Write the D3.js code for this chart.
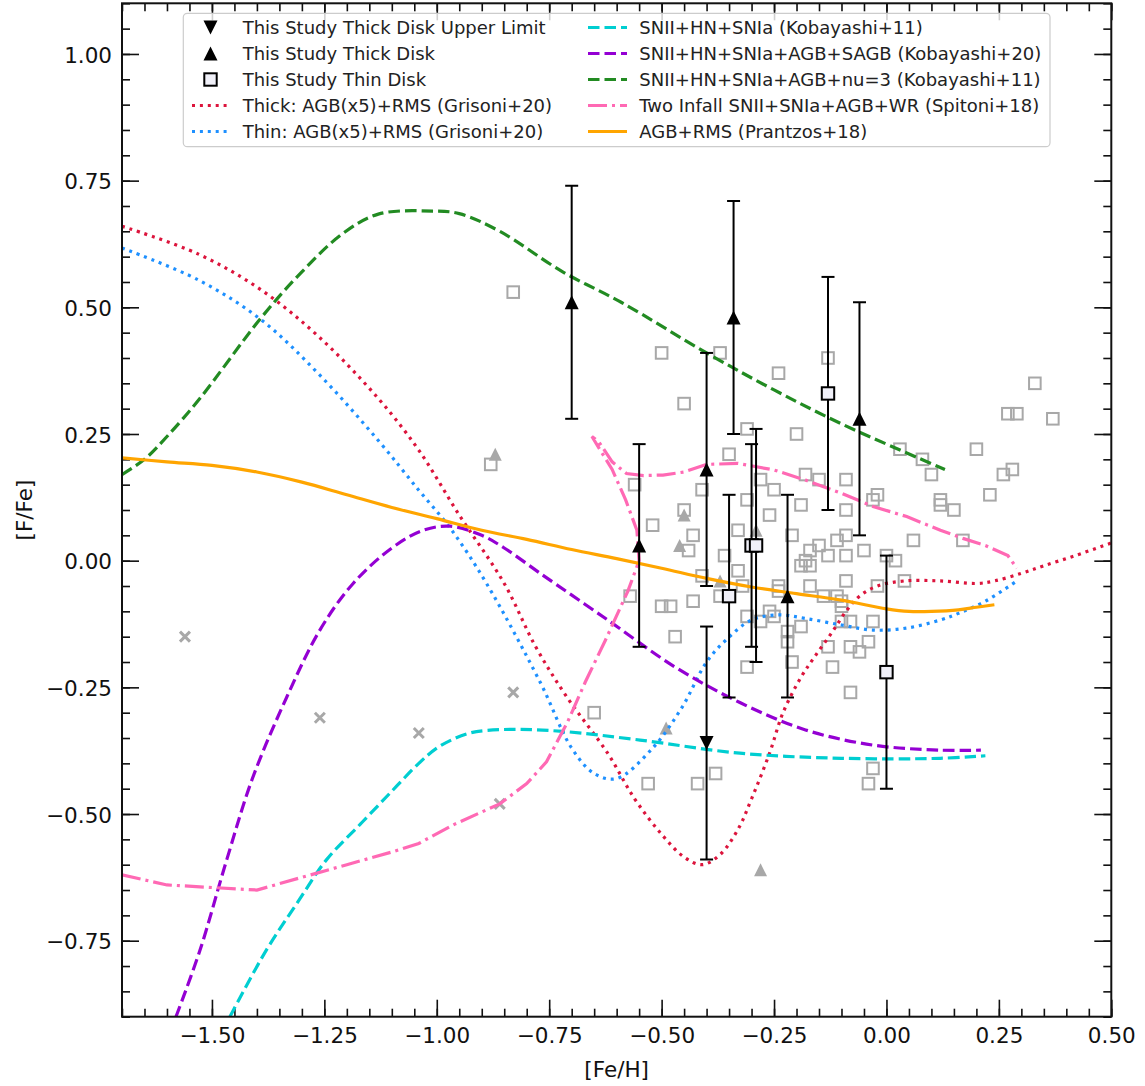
<!DOCTYPE html>
<html>
<head>
<meta charset="utf-8">
<script src="https://cdn.jsdelivr.net/npm/d3@7.9.0/dist/d3.min.js"></script>
<style>
  body { margin: 0; background: #fff; }
  svg { display: block; font-family: "DejaVu Sans", sans-serif; }
</style>
</head>
<body>
<svg id="chart" width="1145" height="1086"></svg>
<script>
// axis ranges and ticks
const xDomain = [-1.7, 0.5];
const yDomain = [-0.9, 1.1];
const xMajorTicks = [-1.5, -1.25, -1.0, -0.75, -0.5, -0.25, 0, 0.25, 0.5];
const yMajorTicks = [-0.75, -0.5, -0.25, 0, 0.25, 0.5, 0.75, 1.0];

// this study: thick disk (filled up triangles)
const thickX = [-0.70, -0.55, -0.40, -0.34, -0.22, -0.06];
const thickY = [0.51, 0.03, 0.18, 0.48, -0.07, 0.28];
const thickErr = [0.23, 0.20, 0.23, 0.23, 0.20, 0.23];

// this study: thick disk upper limit (down triangle)
const limitX = [-0.40];
const limitY = [-0.36];
const limitErr = [0.23];

// this study: thin disk (squares)
const thinX = [-0.35, -0.30, -0.29, -0.13, 0.00];
const thinY = [-0.07, 0.03, 0.03, 0.33, -0.22];
const thinErr = [0.20, 0.20, 0.23, 0.23, 0.23];

// literature, grey open squares
const litSquares = [
  [-0.83, 0.53], [-0.88, 0.19], [-0.50, 0.41], [-0.37, 0.41], [-0.24, 0.37], [-0.13, 0.40],
  [-0.45, 0.31], [-0.31, 0.26], [-0.20, 0.25], [-0.35, 0.21], [-0.56, 0.15], [-0.28, 0.16],
  [-0.41, 0.14], [-0.25, 0.14], [-0.18, 0.17], [-0.15, 0.16], [-0.09, 0.16], [-0.31, 0.12],
  [-0.19, 0.11], [-0.45, 0.10], [-0.26, 0.09], [-0.52, 0.07], [-0.43, 0.05], [-0.33, 0.06],
  [-0.21, 0.05], [-0.44, 0.02], [-0.36, 0.01], [-0.33, -0.02], [0.33, 0.35], [0.27, 0.29],
  [0.29, 0.29], [0.37, 0.28], [0.20, 0.22], [0.03, 0.22], [0.08, 0.20], [0.10, 0.17],
  [0.26, 0.17], [0.28, 0.18], [0.23, 0.13], [0.12, 0.12], [0.12, 0.11], [0.15, 0.10],
  [-0.02, 0.13], [-0.03, 0.12], [-0.09, 0.10], [0.17, 0.04], [0.06, 0.04], [-0.09, 0.05],
  [-0.11, 0.04], [-0.05, 0.02], [-0.09, 0.01], [-0.15, 0.03], [-0.17, 0.02], [-0.13, 0.01],
  [0.00, 0.01], [0.02, 0.00], [-0.18, 0.00], [-0.19, -0.01], [-0.17, -0.01], [-0.09, -0.04],
  [-0.02, -0.05], [0.04, -0.04], [-0.17, -0.05], [-0.14, -0.07], [-0.24, -0.05], [-0.24, -0.06],
  [-0.11, -0.07], [-0.10, -0.08], [-0.10, -0.09], [-0.41, -0.03], [-0.32, -0.05], [-0.37, -0.07],
  [-0.43, -0.08], [-0.50, -0.09], [-0.48, -0.09], [-0.57, -0.07], [-0.47, -0.15], [-0.31, -0.11],
  [-0.28, -0.12], [-0.26, -0.10], [-0.25, -0.11], [-0.22, -0.14], [-0.19, -0.13], [-0.22, -0.16],
  [-0.10, -0.12], [-0.08, -0.12], [-0.03, -0.12], [-0.13, -0.17], [-0.08, -0.17], [-0.06, -0.18],
  [-0.04, -0.16], [-0.21, -0.20], [-0.31, -0.21], [-0.12, -0.21], [-0.08, -0.26], [-0.03, -0.41],
  [-0.04, -0.44], [-0.38, -0.42], [-0.42, -0.44], [-0.53, -0.44], [-0.65, -0.30]
];

// literature, grey filled triangles
const litTriangles = [
  [-0.87, 0.21], [-0.45, 0.09], [-0.46, 0.03], [-0.37, -0.04], [-0.29, 0.06], [-0.49, -0.33], [-0.28, -0.61]
];

// literature, grey crosses
const litCrosses = [
  [-1.56, -0.15], [-1.26, -0.31], [-1.04, -0.34], [-0.83, -0.26], [-0.86, -0.48]
];

// model tracks [Fe/H], [F/Fe]
const thickGrisoni = [
  [-1.70, 0.66], [-1.53, 0.605], [-1.39, 0.534], [-1.26, 0.44], [-1.13, 0.32], [-1.04, 0.218],
  [-0.95, 0.09], [-0.85, -0.045], [-0.78, -0.17], [-0.71, -0.27], [-0.62, -0.38], [-0.56, -0.47],
  [-0.50, -0.54], [-0.45, -0.585], [-0.41, -0.60], [-0.37, -0.58], [-0.33, -0.53], [-0.30, -0.47],
  [-0.26, -0.38], [-0.23, -0.30], [-0.19, -0.23], [-0.16, -0.19], [-0.12, -0.14], [-0.09, -0.10],
  [-0.06, -0.07], [-0.02, -0.05], [0.04, -0.04], [0.12, -0.04], [0.20, -0.045], [0.24, -0.04],
  [0.30, -0.025], [0.35, -0.01], [0.42, 0.01], [0.50, 0.035]
];
const thinGrisoni = [
  [-1.70, 0.617], [-1.53, 0.554], [-1.39, 0.475], [-1.26, 0.366], [-1.13, 0.237], [-1.04, 0.139],
  [-0.97, 0.064], [-0.89, -0.044], [-0.77, -0.24], [-0.70, -0.37], [-0.65, -0.42], [-0.60, -0.43],
  [-0.52, -0.37], [-0.455, -0.29], [-0.40, -0.20], [-0.355, -0.155], [-0.30, -0.117], [-0.24, -0.107],
  [-0.18, -0.114], [-0.10, -0.127], [-0.03, -0.137], [0.045, -0.133], [0.12, -0.117], [0.16, -0.104],
  [0.22, -0.08], [0.29, -0.04]
];
const kobayashi11 = [
  [-1.46, -0.90], [-1.38, -0.77], [-1.31, -0.675], [-1.245, -0.59], [-1.17, -0.52], [-1.10, -0.455],
  [-1.04, -0.40], [-1.00, -0.37], [-0.963, -0.352], [-0.926, -0.34], [-0.889, -0.335],
  [-0.815, -0.333], [-0.72, -0.337], [-0.548, -0.354], [-0.326, -0.38],
  [-0.10, -0.39], [0.12, -0.39], [0.22, -0.385]
];
const kobayashi20 = [
  [-1.58, -0.90], [-1.527, -0.77], [-1.467, -0.59], [-1.41, -0.43], [-1.334, -0.27], [-1.26, -0.137],
  [-1.186, -0.045], [-1.10, 0.025], [-1.03, 0.06], [-0.97, 0.068], [-0.90, 0.05], [-0.85, 0.025],
  [-0.77, -0.025], [-0.62, -0.117], [-0.47, -0.21], [-0.326, -0.28], [-0.18, -0.334], [-0.03, -0.364],
  [0.12, -0.374], [0.21, -0.374]
];
const kobayashiNu3 = [
  [-1.70, 0.17], [-1.65, 0.20], [-1.60, 0.245], [-1.527, 0.32], [-1.39, 0.48], [-1.30, 0.57], [-1.21, 0.645],
  [-1.13, 0.684], [-1.01, 0.69], [-0.95, 0.685], [-0.86, 0.65], [-0.72, 0.57], [-0.59, 0.51],
  [-0.40, 0.41], [-0.25, 0.337], [-0.10, 0.27], [0.13, 0.18]
];
const spitoni18 = [
  [-1.70, -0.62], [-1.60, -0.64], [-1.50, -0.645], [-1.40, -0.65], [-1.30, -0.625], [-1.20, -0.60],
  [-1.10, -0.575], [-1.04, -0.558], [-0.96, -0.52], [-0.86, -0.48], [-0.80, -0.44], [-0.756, -0.397],
  [-0.71, -0.32], [-0.67, -0.24], [-0.625, -0.157], [-0.575, -0.06], [-0.55, 0.0], [-0.555, 0.06],
  [-0.58, 0.12], [-0.61, 0.18], [-0.655, 0.245], [-0.64, 0.235], [-0.61, 0.195], [-0.578, 0.172],
  [-0.54, 0.168], [-0.497, 0.169], [-0.45, 0.175], [-0.40, 0.19], [-0.33, 0.192], [-0.25, 0.179],
  [-0.18, 0.159], [-0.10, 0.133], [-0.03, 0.107], [0.045, 0.087], [0.12, 0.06], [0.17, 0.044],
  [0.22, 0.03], [0.27, 0.01], [0.29, -0.015]
];
const prantzos18 = [
  [-1.70, 0.203], [-1.60, 0.195], [-1.50, 0.188], [-1.40, 0.175], [-1.30, 0.155], [-1.20, 0.13],
  [-1.10, 0.105], [-1.00, 0.083], [-0.90, 0.06], [-0.80, 0.042], [-0.70, 0.022], [-0.60, 0.004],
  [-0.50, -0.015], [-0.40, -0.035], [-0.30, -0.052], [-0.20, -0.065], [-0.10, -0.078], [0.00, -0.095],
  [0.05, -0.10], [0.10, -0.10], [0.16, -0.097], [0.20, -0.092], [0.24, -0.087]
];

const grey = '#a8a8a8';
const svg = d3.select('#chart');
const plot = { left: 122, top: 3.3, right: 1111.3, bottom: 1016.7 };

const x = d3.scaleLinear().domain(xDomain).range([plot.left, plot.right]);
const y = d3.scaleLinear().domain(yDomain).range([plot.bottom, plot.top]);

const minorX = d3.range(-34, 11).map((i) => i * 0.05);
const minorY = d3.range(-18, 23).map((i) => i * 0.05);
const fmt = d3.format('.2f');

// axes, ticks pointing in, on all four sides
function drawAxis(axis, tx, ty, labels) {
  const g = svg.append('g').attr('transform', `translate(${tx},${ty})`).call(axis);
  g.select('.domain').remove();
  g.selectAll('line').attr('stroke', '#111').attr('stroke-width', 1.6);
  if (!labels) g.selectAll('text').remove();
  return g;
}
drawAxis(d3.axisBottom(x).tickValues(minorX).tickSize(-8).tickFormat(''), 0, plot.bottom, false);
drawAxis(d3.axisTop(x).tickValues(minorX).tickSize(-8).tickFormat(''), 0, plot.top, false);
drawAxis(d3.axisLeft(y).tickValues(minorY).tickSize(-8).tickFormat(''), plot.left, 0, false);
drawAxis(d3.axisRight(y).tickValues(minorY).tickSize(-8).tickFormat(''), plot.right, 0, false);
drawAxis(d3.axisTop(x).tickValues(xMajorTicks).tickSize(-17), 0, plot.top, false);
drawAxis(d3.axisRight(y).tickValues(yMajorTicks).tickSize(-17), plot.right, 0, false);
const xAx = drawAxis(d3.axisBottom(x).tickValues(xMajorTicks).tickSize(-17).tickPadding(11).tickFormat(fmt), 0, plot.bottom, true);
const yAx = drawAxis(d3.axisLeft(y).tickValues(yMajorTicks).tickSize(-17).tickPadding(10).tickFormat(fmt), plot.left, 0, true);
[xAx, yAx].forEach((g) => g.selectAll('text')
  .attr('font-family', '"DejaVu Sans", sans-serif').attr('font-size', 21.5).attr('fill', '#111'));
yAx.selectAll('text').attr('dy', '0.38em');

svg.append('text').attr('x', (plot.left + plot.right) / 2).attr('y', 1077)
  .attr('text-anchor', 'middle').attr('font-size', 21.5).attr('fill', '#111').text('[Fe/H]');
svg.append('text').attr('transform', `translate(32,${(plot.top + plot.bottom) / 2}) rotate(-90)`)
  .attr('text-anchor', 'middle').attr('font-size', 21.5).attr('fill', '#111').text('[F/Fe]');

svg.append('clipPath').attr('id', 'clip').append('rect')
  .attr('x', plot.left).attr('y', plot.top)
  .attr('width', plot.right - plot.left).attr('height', plot.bottom - plot.top);
const body = svg.append('g').attr('clip-path', 'url(#clip)');

// marker paths
const triUp = (s) => `M0,${-s / 2}L${s / 2},${s / 2}L${-s / 2},${s / 2}Z`;
const triDown = (s) => `M0,${s / 2}L${s / 2},${-s / 2}L${-s / 2},${-s / 2}Z`;

// literature points
body.selectAll('.lit-sq').data(litSquares).join('rect')
  .attr('x', (d) => x(d[0]) - 5.8).attr('y', (d) => y(d[1]) - 5.8)
  .attr('width', 11.6).attr('height', 11.6)
  .attr('fill', 'none').attr('stroke', grey).attr('stroke-width', 2);
body.selectAll('.lit-tri').data(litTriangles).join('path')
  .attr('transform', (d) => `translate(${x(d[0])},${y(d[1])})`)
  .attr('d', triUp(13)).attr('fill', grey);
body.selectAll('.lit-x').data(litCrosses).join('path')
  .attr('transform', (d) => `translate(${x(d[0])},${y(d[1])})`)
  .attr('d', 'M-5,-5L5,5M-5,5L5,-5')
  .attr('stroke', grey).attr('stroke-width', 3).attr('fill', 'none');

// model tracks
const models = [
  { data: thickGrisoni, color: '#dc143c', dash: '3,4.9', label: 'Thick: AGB(x5)+RMS (Grisoni+20)', curve: d3.curveCatmullRom },
  { data: thinGrisoni, color: '#1e90ff', dash: '3,4.9', label: 'Thin: AGB(x5)+RMS (Grisoni+20)', curve: d3.curveCatmullRom },
  { data: kobayashi11, color: '#00ced1', dash: '11.5,5', label: 'SNII+HN+SNIa (Kobayashi+11)', curve: d3.curveCatmullRom },
  { data: kobayashi20, color: '#9400d3', dash: '11.5,5', label: 'SNII+HN+SNIa+AGB+SAGB (Kobayashi+20)', curve: d3.curveCatmullRom },
  { data: kobayashiNu3, color: '#228b22', dash: '11.5,5', label: 'SNII+HN+SNIa+AGB+nu=3 (Kobayashi+11)', curve: d3.curveCatmullRom },
  { data: spitoni18, color: '#ff69b4', dash: '19,5,3,5', label: 'Two Infall SNII+SNIa+AGB+WR (Spitoni+18)', curve: d3.curveLinear },
  { data: prantzos18, color: '#ffa500', dash: null, label: 'AGB+RMS (Prantzos+18)', curve: d3.curveCatmullRom }
];
models.forEach((m) => {
  const line = d3.line().x((d) => x(d[0])).y((d) => y(d[1])).curve(m.curve);
  body.append('path').attr('d', line(m.data))
    .attr('fill', 'none').attr('stroke', m.color).attr('stroke-width', 3.2)
    .attr('stroke-dasharray', m.dash);
});

// this study with error bars
function drawStudy(xs, ys, errs, marker) {
  xs.forEach((xv, i) => {
    const g = body.append('g');
    const cx = x(xv), top = y(ys[i] + errs[i]), bot = y(ys[i] - errs[i]);
    g.append('line').attr('x1', cx).attr('x2', cx).attr('y1', top).attr('y2', bot)
      .attr('stroke', '#000').attr('stroke-width', 2);
    [top, bot].forEach((cy) => g.append('line')
      .attr('x1', cx - 6.5).attr('x2', cx + 6.5).attr('y1', cy).attr('y2', cy)
      .attr('stroke', '#000').attr('stroke-width', 2));
    marker(g.append('g').attr('transform', `translate(${cx},${y(ys[i])})`));
  });
}
const drawTriUp = (g) => g.append('path').attr('d', triUp(14)).attr('fill', '#000');
const drawTriDown = (g) => g.append('path').attr('d', triDown(14)).attr('fill', '#000');
const drawSquare = (g) => g.append('rect').attr('x', -6.2).attr('y', -6.2).attr('width', 12.4).attr('height', 12.4)
  .attr('fill', '#f0f0f8').attr('stroke', '#000').attr('stroke-width', 2);
drawStudy(limitX, limitY, limitErr, drawTriDown);
drawStudy(thickX, thickY, thickErr, drawTriUp);
drawStudy(thinX, thinY, thinErr, drawSquare);

// frame
svg.append('rect').attr('x', plot.left).attr('y', plot.top)
  .attr('width', plot.right - plot.left).attr('height', plot.bottom - plot.top)
  .attr('fill', 'none').attr('stroke', '#111').attr('stroke-width', 2);

// legend
const leg = svg.append('g');
leg.append('rect').attr('x', 183.3).attr('y', 13.3).attr('width', 866.7).attr('height', 133.4)
  .attr('rx', 4).attr('fill', '#fff').attr('fill-opacity', 0.8).attr('stroke', '#cccccc').attr('stroke-width', 1.2);
const rowY = (i) => 27.5 + i * 26;
const col1 = [
  { label: 'This Study Thick Disk Upper Limit', draw: drawTriDown },
  { label: 'This Study Thick Disk', draw: drawTriUp },
  { label: 'This Study Thin Disk', draw: drawSquare },
  { model: models[0] },
  { model: models[1] }
];
const col2 = models.slice(2).map((m) => ({ model: m }));
function legendItem(item, i, lx0, lx1, tx) {
  const cy = rowY(i);
  if (item.model) {
    leg.append('line').attr('x1', lx0).attr('x2', lx1).attr('y1', cy).attr('y2', cy)
      .attr('stroke', item.model.color).attr('stroke-width', 3.2)
      .attr('stroke-dasharray', item.model.dash);
  } else {
    item.draw(leg.append('g').attr('transform', `translate(${(lx0 + lx1) / 2},${cy})`));
  }
  leg.append('text').attr('x', tx).attr('y', cy).attr('dy', '0.36em')
    .attr('font-size', 18).attr('fill', '#222').text(item.label || item.model.label);
}
col1.forEach((it, i) => legendItem(it, i, 192, 229, 242.7));
col2.forEach((it, i) => legendItem(it, i, 588, 627, 639.3));
</script>
</body>
</html>
